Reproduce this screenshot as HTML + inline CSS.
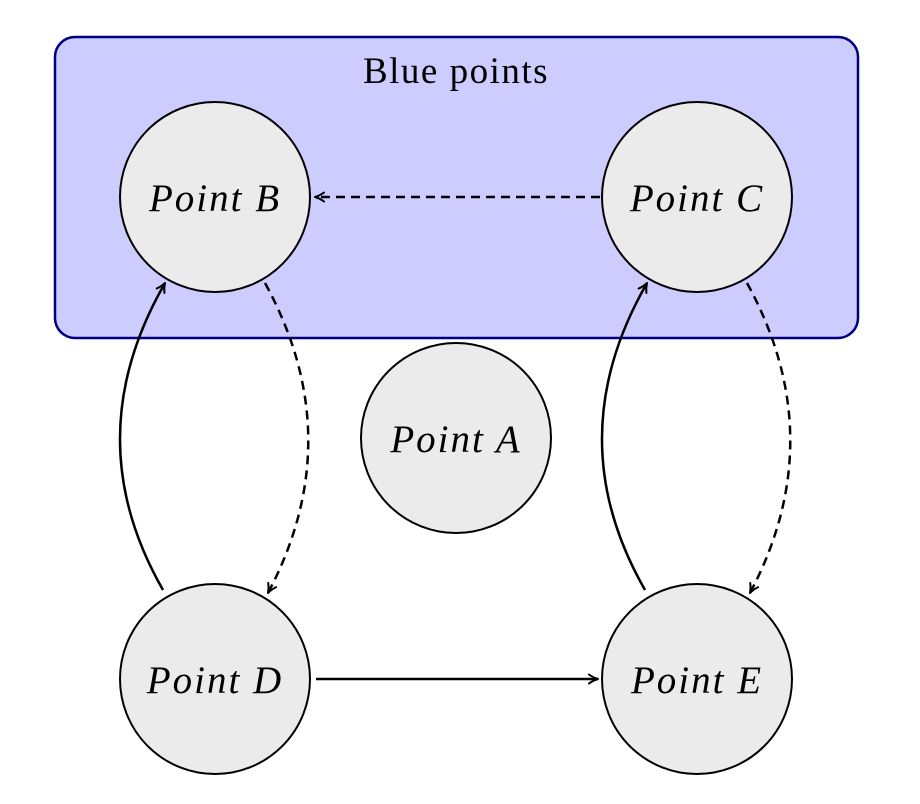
<!DOCTYPE html>
<html><head><meta charset="utf-8"><style>
html,body{margin:0;padding:0;background:#fff;}
svg{display:block;}
text{font-family:"Liberation Serif",serif;}
</style></head><body>
<svg width="920" height="804" viewBox="0 0 920 804">
<defs>
<marker id="ah" viewBox="0 0 12 12" refX="10" refY="6" markerWidth="12" markerHeight="12" markerUnits="userSpaceOnUse" orient="auto">
<path d="M1,1.5 Q5,4.5 10,6 Q5,7.5 1,10.5" fill="none" stroke="#000" stroke-width="2" stroke-linecap="round" stroke-linejoin="round"/>
</marker>
</defs>
<g>
<rect x="55" y="37" width="803" height="301" rx="20" ry="20" fill="#ccccff" stroke="#000080" stroke-width="2.5"/>
<text x="456" y="83" font-size="37" letter-spacing="1.5" text-anchor="middle">Blue points</text>
</g>
<g fill="#ebebeb" stroke="#000" stroke-width="2">
<circle cx="215" cy="197" r="95"/>
<circle cx="697" cy="197" r="95"/>
<circle cx="456" cy="438" r="95"/>
<circle cx="215" cy="679" r="95"/>
<circle cx="697" cy="679" r="95"/>
</g>
<g font-size="39" font-style="italic" text-anchor="middle" letter-spacing="2">
<text x="215" y="211">Point B</text>
<text x="697" y="211">Point C</text>
<text x="456" y="452">Point A</text>
<text x="215" y="693">Point D</text>
<text x="697" y="693">Point E</text>
</g>
<g fill="none" stroke="#000" stroke-width="2.5" marker-end="url(#ah)">
<path d="M600,197 L315,197" stroke-dasharray="9,6"/>
<path d="M265,283 Q350,438 268,593" stroke-dasharray="9,6"/>
<path d="M747,283 Q832,438 750,593" stroke-dasharray="9,6"/>
<path d="M163,590 Q76,438 165,283"/>
<path d="M645,590 Q558,438 647,283"/>
<path d="M316,679 L598,679"/>
</g>
</svg>
</body></html>
